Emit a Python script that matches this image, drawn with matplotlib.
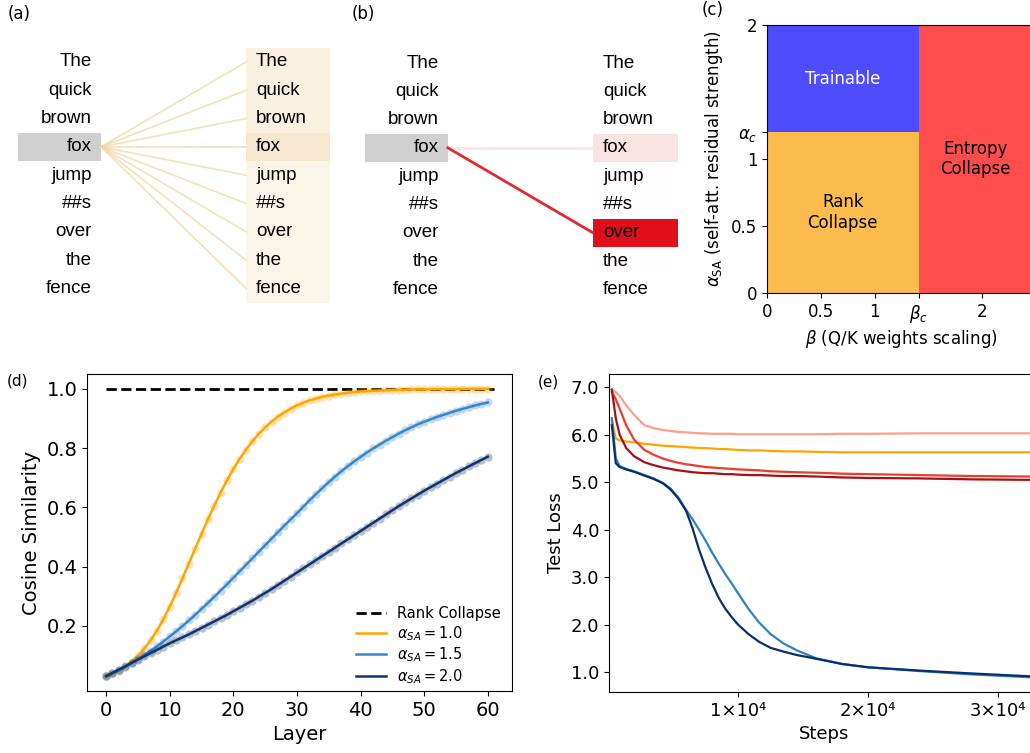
import matplotlib
matplotlib.use('Agg')
import matplotlib.pyplot as plt
import numpy as np
from matplotlib.patches import Rectangle
from matplotlib.colors import LinearSegmentedColormap
from matplotlib.ticker import FuncFormatter

W, H = 1030, 753

# (a)/(b) attention of the query token over the sentence
tokens = ['The', 'quick', 'brown', 'fox', 'jump', '##s', 'over', 'the', 'fence']
query = 'fox'
attn_a = [0.13, 0.13, 0.13, 0.2, 0.1, 0.1, 0.1, 0.1, 0.1]
attn_b = [0.0, 0.0, 0.0, 0.12, 0.01, 0.01, 1.0, 0.01, 0.0]

# (c) phase diagram
beta_c = 1.41
alpha_c = 1.2
phases = ['Trainable', 'Rank\nCollapse', 'Entropy\nCollapse']

# (d) cosine similarity per layer
layers = np.arange(61)
cos_a10 = [0.030, 0.037, 0.048, 0.062, 0.079, 0.099, 0.123, 0.151, 0.184, 0.222,
           0.265, 0.311, 0.360, 0.410, 0.460, 0.510, 0.559, 0.606, 0.650, 0.691,
           0.729, 0.764, 0.795, 0.823, 0.848, 0.870, 0.889, 0.906, 0.920, 0.933,
           0.944, 0.953, 0.961, 0.967, 0.973, 0.977, 0.981, 0.984, 0.987, 0.989,
           0.991, 0.992, 0.993, 0.994, 0.995, 0.996, 0.997, 0.997, 0.998, 0.998,
           0.998, 0.999, 0.999, 0.999, 0.999, 0.999, 1.000, 1.000, 1.000, 1.000, 1.000]
cos_a15 = [0.030, 0.040, 0.051, 0.062, 0.074, 0.087, 0.101, 0.116, 0.131, 0.147,
           0.164, 0.181, 0.199, 0.218, 0.237, 0.257, 0.277, 0.298, 0.319, 0.340,
           0.362, 0.384, 0.406, 0.428, 0.450, 0.472, 0.494, 0.516, 0.538, 0.559,
           0.580, 0.602, 0.624, 0.645, 0.665, 0.685, 0.704, 0.722, 0.739, 0.755,
           0.770, 0.785, 0.799, 0.812, 0.825, 0.837, 0.849, 0.860, 0.870, 0.880,
           0.889, 0.897, 0.905, 0.912, 0.919, 0.926, 0.932, 0.938, 0.944, 0.949, 0.954]
cos_a20 = [0.030, 0.041, 0.052, 0.063, 0.075, 0.086, 0.097, 0.108, 0.119, 0.130,
           0.141, 0.151, 0.161, 0.171, 0.182, 0.193, 0.204, 0.215, 0.226, 0.237,
           0.249, 0.261, 0.273, 0.285, 0.298, 0.311, 0.324, 0.338, 0.352, 0.366,
           0.380, 0.394, 0.408, 0.422, 0.436, 0.450, 0.464, 0.478, 0.492, 0.506,
           0.520, 0.534, 0.548, 0.562, 0.576, 0.590, 0.604, 0.617, 0.630, 0.643,
           0.656, 0.668, 0.680, 0.692, 0.704, 0.716, 0.727, 0.738, 0.749, 0.760, 0.771]

# (e) test loss vs training steps
steps = [300, 600, 900, 1400, 2000, 2800, 3500, 4200, 4800, 5400,
         6000, 6500, 7000, 7500, 8000, 8500, 9000, 9500, 10000, 10800,
         11600, 12500, 13500, 14500, 16000, 18000, 20000, 24000, 28000, 32500]
loss_salmon = [6.95, 6.90, 6.82, 6.62, 6.42, 6.20, 6.14, 6.10, 6.08, 6.06,
               6.05, 6.04, 6.03, 6.03, 6.02, 6.02, 6.02, 6.02, 6.01, 6.01,
               6.01, 6.01, 6.01, 6.01, 6.01, 6.02, 6.02, 6.03, 6.03, 6.03]
loss_orange = [6.30, 5.92, 5.88, 5.86, 5.84, 5.81, 5.79, 5.77, 5.76, 5.75,
               5.74, 5.73, 5.72, 5.72, 5.71, 5.70, 5.70, 5.69, 5.68, 5.67,
               5.67, 5.66, 5.65, 5.65, 5.64, 5.63, 5.63, 5.63, 5.63, 5.63]
loss_red = [6.90, 6.75, 6.55, 6.20, 5.90, 5.68, 5.58, 5.50, 5.45, 5.41,
            5.38, 5.36, 5.34, 5.32, 5.31, 5.30, 5.29, 5.28, 5.27, 5.26,
            5.25, 5.23, 5.22, 5.21, 5.20, 5.18, 5.17, 5.15, 5.13, 5.12]
loss_darkred = [6.95, 6.35, 6.00, 5.72, 5.55, 5.42, 5.36, 5.31, 5.28, 5.25,
                5.23, 5.21, 5.20, 5.19, 5.19, 5.18, 5.17, 5.17, 5.16, 5.15,
                5.15, 5.14, 5.13, 5.13, 5.12, 5.10, 5.09, 5.08, 5.06, 5.05]
loss_blue = [6.35, 5.50, 5.34, 5.28, 5.23, 5.15, 5.08, 4.99, 4.87, 4.68,
             4.42, 4.22, 4.00, 3.77, 3.52, 3.29, 3.07, 2.87, 2.66, 2.33,
             2.05, 1.80, 1.60, 1.46, 1.29, 1.17, 1.10, 1.02, 0.95, 0.89]
loss_navy = [6.20, 5.40, 5.32, 5.27, 5.22, 5.14, 5.07, 4.98, 4.85, 4.66,
             4.40, 4.03, 3.58, 3.20, 2.86, 2.57, 2.34, 2.16, 2.00, 1.80,
             1.64, 1.51, 1.43, 1.36, 1.28, 1.17, 1.10, 1.03, 0.97, 0.91]


def box(x0, y0, x1, y1):
    # pixel box -> figure fraction rect
    return [x0 / W, 1 - y1 / H, (x1 - x0) / W, (y1 - y0) / H]


fig = plt.figure(figsize=(W / 100, H / 100), dpi=100)


def attn_panel(ax, weights, cmap, x_text_l, gray, right, x_text_r, y0, line_color=None):
    ax.set_xlim(0, 350)
    ax.set_ylim(320, 0)
    ax.axis('off')
    dy = 28.3
    rows = y0 + dy * np.arange(len(tokens))
    qi = tokens.index(query)
    ax.add_patch(Rectangle((gray[0], rows[qi] - dy / 2), gray[1] - gray[0], dy,
                           color='#cfcfcf', lw=0))
    for i, (tok, w) in enumerate(zip(tokens, weights)):
        ax.add_patch(Rectangle((right[0], rows[i] - dy / 2), right[1] - right[0], dy,
                               color=cmap(w), lw=0, zorder=1))
        if line_color is not None:
            ax.plot([gray[1], right[0]], [rows[qi], rows[i]], color=line_color,
                    lw=1.2, alpha=0.75, zorder=2)
        elif w > 0.05:
            ax.plot([gray[1], right[0]], [rows[qi], rows[i]],
                    color=cmap(min(w, 0.9)), lw=2, zorder=2)
        ax.text(x_text_l, rows[i], tok, ha='right', va='center', fontsize=13.5,
                family='Liberation Sans', zorder=3)
        ax.text(x_text_r, rows[i], tok, ha='left', va='center', fontsize=13.5,
                family='Liberation Sans', zorder=3)


ax_a = fig.add_axes(box(0, 0, 350, 320))
cmap_a = LinearSegmentedColormap.from_list('beige', ['#ffffff', '#e6be78'])
attn_panel(ax_a, [w * 1.75 for w in attn_a], cmap_a, 92, (18, 101), (246, 330), 256, 62,
           line_color='#f0d6a6')

ax_b = fig.add_axes(box(350, 0, 700, 320))
cmap_b = LinearSegmentedColormap.from_list('reds', ['#ffffff', '#e10f19'])
attn_panel(ax_b, attn_b, cmap_b, 89, (15, 98), (243, 328), 253, 63)

# (c) phase diagram
ax_c = fig.add_axes(box(767, 25, 1036, 293))
ax_c.fill_between([0, beta_c], alpha_c, 2, color='#4d4dff', lw=0)
ax_c.fill_between([0, beta_c], 0, alpha_c, color='#fcbc4d', lw=0)
ax_c.fill_between([beta_c, 2.5], 0, 2, color='#ff4d4d', lw=0)
ax_c.text(beta_c / 2, (alpha_c + 2) / 2, phases[0], color='white', ha='center',
          va='center', fontsize=12)
ax_c.text(beta_c / 2, alpha_c / 2, phases[1], color='black', ha='center',
          va='center', fontsize=12)
ax_c.text((beta_c + 2.5) / 2 - 0.02, 1.0, phases[2], color='black', ha='center',
          va='center', fontsize=12)
ax_c.set_xlim(0, 2.5)
ax_c.set_ylim(0, 2)
ax_c.set_xticks([0, 0.5, 1, beta_c, 2])
ax_c.set_xticklabels(['0', '0.5', '1', r'$\beta_c$', '2'])
ax_c.set_yticks([0, 0.5, 1, alpha_c, 2])
ax_c.set_yticklabels(['0', '0.5', '1', r'$\alpha_c$', '2'])
ax_c.tick_params(labelsize=12)
ax_c.set_xlabel(r'$\beta$ (Q/K weights scaling)', fontsize=12, labelpad=2)
ax_c.set_ylabel(r'$\alpha_{\mathrm{SA}}$ (self-att. residual strength)', fontsize=12)
ax_c.spines['right'].set_visible(False)

# (d) cosine similarity
ax_d = fig.add_axes(box(87, 374, 512, 691))
ax_d.plot([0, 61], [1, 1], 'k--', lw=2, label='Rank Collapse')
for ys, c, lab in [(cos_a10, '#ffa500', r'$\alpha_{SA} = 1.0$'),
                   (cos_a15, '#3a87c8', r'$\alpha_{SA} = 1.5$'),
                   (cos_a20, '#12346b', r'$\alpha_{SA} = 2.0$')]:
    ax_d.plot(layers, ys, 'o', color=c, ms=6, alpha=0.3, mec='none')
    ax_d.plot(layers, ys, color=c, lw=1.8, label=lab)
ax_d.set_xlim(-3, 63.8)
ax_d.set_ylim(-0.02, 1.05)
ax_d.set_xticks([0, 10, 20, 30, 40, 50, 60])
ax_d.set_yticks([0.2, 0.4, 0.6, 0.8, 1.0])
ax_d.tick_params(labelsize=14)
ax_d.set_xlabel('Layer', fontsize=14)
ax_d.set_ylabel('Cosine Similarity', fontsize=14)
ax_d.legend(loc='lower right', frameon=False, fontsize=10.5, handlelength=2.0,
            labelspacing=0.2, borderaxespad=0.5, bbox_to_anchor=(1.005, -0.025))

# (e) test loss
ax_e = fig.add_axes(box(609, 374, 1040, 692))
for ys, c in [(loss_salmon, '#fba08a'), (loss_orange, '#ffa500'),
              (loss_red, '#ef3b2c'), (loss_darkred, '#a50f15'),
              (loss_blue, '#3182bd'), (loss_navy, '#08306b')]:
    ax_e.plot(steps, ys, color=c, lw=1.6)
ax_e.set_xlim(80, 33200)
ax_e.set_ylim(0.58, 7.28)
ax_e.set_xticks([10000, 20000, 30000])
ax_e.xaxis.set_major_formatter(FuncFormatter(lambda v, p: f'{int(round(v / 1e4))}×10⁴'))
ax_e.set_yticks([1, 2, 3, 4, 5, 6, 7])
ax_e.yaxis.set_major_formatter(FuncFormatter(lambda v, p: f'{v:.1f}'))
ax_e.tick_params(labelsize=13)
ax_e.set_xlabel('Steps', fontsize=13)
ax_e.set_ylabel('Test Loss', fontsize=13)
ax_e.spines['right'].set_visible(False)

# panel labels
for lab, x, y, fs in [('(a)', 8, 14, 12), ('(b)', 352, 14, 12), ('(c)', 702, 10, 12),
                      ('(d)', 7, 381, 11), ('(e)', 538, 382, 11)]:
    fig.text(x / W, 1 - y / H, lab, ha='left', va='center', fontsize=fs)

fig.savefig('out.png', dpi=100)
